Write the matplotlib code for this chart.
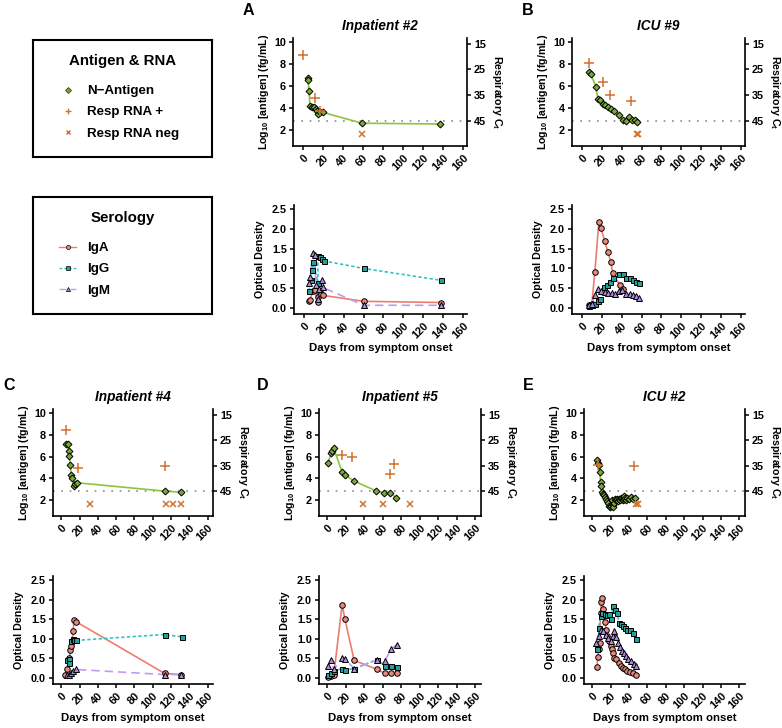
import matplotlib
matplotlib.use("Agg")
import matplotlib.pyplot as plt
from matplotlib.lines import Line2D

plt.rcParams['font.family'] = ['Liberation Sans', 'DejaVu Sans']
plt.rcParams['font.weight'] = 'bold'
plt.rcParams['axes.labelweight'] = 'bold'
plt.rcParams['mathtext.default'] = 'regular'

# ---------------- data ----------------
# A - Inpatient #2
A_ag_day = [5, 5, 6, 7, 9, 11, 13, 14, 15, 17, 20, 59, 137]
A_ag_log = [6.77, 6.5, 5.55, 4.15, 4.1, 4.05, 3.95, 3.75, 3.5, 3.65, 3.6, 2.62, 2.55]
A_pos_day = [0, 12, 17]
A_pos_ct = [19.3, 35.9, 41.0]
A_neg_day = [59]
A_iga_day = [5, 6, 9, 11, 14, 14, 16, 17, 19, 60, 138]
A_iga_od = [0.17, 0.21, 0.43, 0.45, 0.15, 0.28, 0.41, 0.36, 0.32, 0.17, 0.14]
A_igg_day = [5, 7, 8, 9, 14, 14, 16, 18, 20, 60, 138]
A_igg_od = [0.43, 0.70, 0.96, 1.17, 0.64, 1.31, 1.28, 1.25, 1.19, 1.00, 0.70]
A_igm_day = [5, 6, 9, 11, 12, 14, 15, 18, 19, 60, 138]
A_igm_od = [0.62, 0.79, 1.40, 1.34, 0.58, 0.24, 0.49, 0.70, 0.52, 0.07, 0.07]

# B - ICU #9
B_ag_day = [7, 9, 14, 16, 18, 21, 23, 26, 29, 32, 37, 41, 44, 47, 50, 53, 55]
B_ag_log = [7.28, 7.07, 5.92, 4.86, 4.71, 4.41, 4.23, 4.05, 3.87, 3.75, 3.35, 2.9, 2.84, 3.14, 2.9, 2.9, 2.75]
B_pos_day = [7, 21, 28, 49]
B_pos_ct = [22.4, 29.9, 35.0, 37.1]
B_neg_day = [55, 56]
B_iga_day = [7, 10, 13, 17, 19, 23, 26, 29, 31, 38, 41]
B_iga_od = [0.07, 0.11, 0.92, 2.17, 2.02, 1.69, 1.42, 1.17, 0.89, 0.58, 0.49]
B_igg_day = [7, 10, 13, 16, 18, 22, 25, 28, 31, 37, 41, 44, 48, 51, 54, 57]
B_igg_od = [0.05, 0.07, 0.11, 0.19, 0.24, 0.52, 0.58, 0.66, 0.75, 0.87, 0.87, 0.77, 0.75, 0.70, 0.66, 0.62]
B_igm_day = [7, 10, 13, 16, 19, 23, 26, 30, 33, 37, 40, 44, 48, 51, 54, 57]
B_igm_od = [0.07, 0.11, 0.32, 0.49, 0.43, 0.41, 0.38, 0.38, 0.36, 0.43, 0.45, 0.36, 0.35, 0.32, 0.30, 0.26]

# C - Inpatient #4
C_ag_day = [5, 7, 8, 9, 10, 11, 12, 14, 15, 17, 113, 131]
C_ag_log = [7.17, 7.17, 6.5, 6.08, 5.2, 4.29, 4.07, 3.28, 3.47, 3.6, 2.83, 2.74]
C_pos_day = [5, 18, 114]
C_pos_ct = [21.0, 35.7, 35.2]
C_neg_day = [31, 115, 122, 131]
C_iga_day = [4, 6, 9, 10, 11, 12, 13, 14, 16, 113, 131]
C_iga_od = [0.09, 0.22, 0.52, 0.71, 0.83, 0.94, 1.19, 1.49, 1.44, 0.12, 0.09]
C_igg_day = [6, 8, 9, 11, 13, 14, 16, 113, 132]
C_igg_od = [0.47, 0.49, 0.39, 0.94, 1.00, 0.98, 0.96, 1.11, 1.05]
C_igm_day = [6, 9, 11, 13, 16, 113, 131]
C_igm_od = [0.07, 0.09, 0.14, 0.18, 0.22, 0.09, 0.09]

# D - Inpatient #5
D_ag_day = [1, 4, 5, 7, 16, 19, 29, 53, 61, 68, 74]
D_ag_log = [5.38, 6.37, 6.53, 6.74, 4.56, 4.32, 3.75, 2.84, 2.69, 2.66, 2.24]
D_pos_day = [16, 27, 68, 72]
D_pos_ct = [30.7, 31.7, 38.3, 34.3]
D_neg_day = [39, 60, 89]
D_sero_day = [1, 4, 7, 16, 19, 29, 54, 62, 69, 75]
D_iga_od = [0.03, 0.05, 0.09, 1.87, 1.50, 0.45, 0.22, 0.12, 0.12, 0.12]
D_igg_od = [0.09, 0.12, 0.18, 0.24, 0.21, 0.24, 0.47, 0.32, 0.31, 0.29]
D_igm_od = [0.32, 0.47, 0.22, 0.51, 0.49, 0.24, 0.47, 0.43, 0.74, 0.85]

# E - ICU #2
E_ag_day = [5, 6, 7, 8, 9, 10, 11, 12, 13, 14, 15, 16, 17, 18, 19, 20, 21, 22, 23,
            24, 25, 26, 27, 28, 29, 30, 31, 32, 33, 34, 35, 36, 37, 38, 40, 42, 44, 46]
E_ag_log = [5.65, 5.45, 5.2, 4.6, 3.7, 3.3, 2.75, 2.6, 2.45, 2.3, 2.1, 1.9, 1.7, 1.5, 1.35,
            1.45, 2.05, 1.6, 1.4, 1.75, 2.1, 2.0, 2.15, 1.95, 2.1, 2.0, 2.2, 2.1, 2.0, 2.15,
            2.35, 2.2, 2.05, 2.2, 2.15, 2.25, 2.1, 2.2]
E_pos_day = [6, 45]
E_pos_ct = [34.7, 35.0]
E_neg_day = [48, 50]
E_iga_day = [5, 6, 7, 8, 9, 10, 11, 12, 13, 14, 15, 16, 18, 20, 21, 23, 24, 26, 29, 31,
             33, 36, 38, 41, 44, 47]
E_iga_od = [0.29, 0.54, 0.74, 0.90, 1.67, 1.93, 2.05, 1.76, 1.64, 1.44, 1.23, 1.06, 0.94,
            0.83, 0.74, 0.64, 0.52, 0.48, 0.39, 0.30, 0.26, 0.22, 0.18, 0.15, 0.14, 0.09]
E_igg_day = [5, 7, 9, 11, 14, 16, 18, 20, 23, 25, 27, 29, 31, 33, 36, 38, 41, 44, 47]
E_igg_od = [0.74, 1.28, 1.57, 1.66, 1.62, 1.60, 1.62, 1.50, 1.83, 1.74, 1.66, 1.40, 1.38,
            1.33, 1.27, 1.23, 1.22, 1.15, 1.00]
E_igm_day = [4, 7, 10, 12, 15, 17, 20, 22, 24, 26, 28, 30, 32, 34, 37, 39, 42, 45, 47]
E_igm_od = [0.90, 1.06, 1.23, 1.19, 1.10, 1.02, 0.94, 1.08, 1.19, 1.05, 0.89, 0.80, 0.70,
            0.64, 0.56, 0.49, 0.43, 0.37, 0.30]

DAY_TICKS = [0, 20, 40, 60, 80, 100, 120, 140, 160]
AG_TICKS = [2, 4, 6, 8, 10]
CT_TICKS = [15, 25, 35, 45]
OD_TICKS = [0.0, 0.5, 1.0, 1.5, 2.0, 2.5]

# ---------------- styling ----------------
GREEN_FILL = '#7aa83a'
GREEN_LINE = '#8cc43c'
ORANGE = '#d2722e'
IGA_LINE, IGA_FILL = '#f07b70', '#e98a80'
IGG_LINE, IGG_FILL = '#35c4c4', '#25a09a'
IGM_LINE, IGM_FILL = '#c19bf0', '#ad8ae0'

TICK_FS = 7.8
YLAB_FS = 7.7
XLAB_FS = 8.2
TITLE_FS = 9.8

LOD = 2.8          # antigen LOD, also Ct 45
LOG_PER_CT = 0.235
NEG_Y = 1.65       # RNA-negative samples drawn below LOD
AG_YLIM = (0.55, 10.36)
OD_YLIM = (-0.15, 2.6)


def log_to_ct(y):
    return 45 - (y - LOD) / LOG_PER_CT


W, H = 782, 728
fig = plt.figure(figsize=(W / 100, H / 100), dpi=100)


def add_ax(l, t, r, b):
    return fig.add_axes([l / W, 1 - b / H, (r - l) / W, (b - t) / H])


def base_style(ax, xlim, ylim, yticks, ylabels):
    ax.set_xlim(xlim)
    ax.set_ylim(ylim)
    ax.set_xticks(DAY_TICKS)
    ax.set_xticklabels([str(t) for t in DAY_TICKS], rotation=45, ha='right',
                       va='top', rotation_mode='anchor')
    ax.set_yticks(yticks)
    ax.set_yticklabels(ylabels)
    ax.tick_params(length=3, width=1.1, labelsize=TICK_FS, pad=2)
    ax.spines['top'].set_visible(False)
    ax.spines['right'].set_visible(False)
    for s in ax.spines.values():
        s.set_linewidth(1.2)


def antigen_panel(box, xlim, title, ag_day, ag_log, pos_day, pos_ct, neg_day):
    l, t, r, b = box
    ax = add_ax(*box)
    ax.axhline(LOD, color='#8a8a8a', lw=1.2, ls=(0, (1, 4)), zorder=1)
    ax.plot(ag_day, ag_log, color=GREEN_LINE, lw=1.2, zorder=2)
    ax.plot(ag_day, ag_log, ls='none', marker='D', ms=3.5, mfc=GREEN_FILL,
            mec='black', mew=0.7, zorder=3)
    ax.plot(neg_day, [NEG_Y] * len(neg_day), ls='none', marker='x', ms=4.5,
            mec=ORANGE, mew=1.1, zorder=3)
    base_style(ax, xlim, AG_YLIM, AG_TICKS, [str(v) for v in AG_TICKS])
    ax.set_ylabel('Log$_{10}$ [antigen] (fg/mL)', fontsize=YLAB_FS)
    ax.yaxis.set_label_coords(-22 / (r - l), 0.5)
    ax.set_title(title, fontsize=TITLE_FS, fontstyle='italic', fontweight='bold', pad=6)

    ax2 = ax.twinx()
    ax2.set_ylim(log_to_ct(AG_YLIM[0]), log_to_ct(AG_YLIM[1]))
    ax2.plot(pos_day, pos_ct, ls='none', marker='+', ms=7, mec=ORANGE, mew=1.1)
    ax2.set_yticks(CT_TICKS)
    ax2.tick_params(length=3, width=1.1, labelsize=TICK_FS, pad=2)
    for s in ['top', 'left', 'bottom']:
        ax2.spines[s].set_visible(False)
    ax2.spines['right'].set_linewidth(1.2)
    ax2.set_ylabel('Respiratory C$_t$', fontsize=YLAB_FS, rotation=270, va='bottom')
    ax2.yaxis.set_label_coords(1 + 23 / (r - l), 0.5)
    return ax


SERO = [
    ('IgA', dict(color=IGA_LINE, ls='-'), dict(marker='o', mfc=IGA_FILL), 4),
    ('IgG', dict(color=IGG_LINE, ls=(0, (2, 1.4))), dict(marker='s', mfc=IGG_FILL), 3.6),
    ('IgM', dict(color=IGM_LINE, ls=(0, (5, 3))), dict(marker='^', mfc=IGM_FILL), 4.4),
]


def sero_panel(box, xlim, series):
    l, t, r, b = box
    ax = add_ax(*box)
    for (name, lkw, mkw, ms), (d, v) in zip(SERO, series):
        ax.plot(d, v, lw=1.2, zorder=2, **lkw)
    for (name, lkw, mkw, ms), (d, v) in zip(SERO, series):
        ax.plot(d, v, ls='none', ms=ms, mec='black', mew=0.7, zorder=3, **mkw)
    base_style(ax, xlim, OD_YLIM, OD_TICKS, ['%.1f' % v for v in OD_TICKS])
    ax.set_ylabel('Optical Density', fontsize=YLAB_FS)
    ax.yaxis.set_label_coords(-29 / (r - l), 0.5)
    ax.set_xlabel('Days from symptom onset', fontsize=XLAB_FS)
    ax.xaxis.set_label_coords(0.5, -29 / (b - t))
    return ax


TOP_X = (-10, 164)
BOT_X = (-9, 166)

antigen_panel((293, 38, 467, 146), TOP_X, 'Inpatient #2', A_ag_day, A_ag_log, A_pos_day, A_pos_ct, A_neg_day)
sero_panel((294, 205, 467, 314), TOP_X,
           [(A_iga_day, A_iga_od), (A_igg_day, A_igg_od), (A_igm_day, A_igm_od)])

antigen_panel((572, 38, 745, 146), TOP_X, 'ICU #9', B_ag_day, B_ag_log, B_pos_day, B_pos_ct, B_neg_day)
sero_panel((572, 205, 745, 314), TOP_X,
           [(B_iga_day, B_iga_od), (B_igg_day, B_igg_od), (B_igm_day, B_igm_od)])

antigen_panel((53, 409, 213, 516), BOT_X, 'Inpatient #4', C_ag_day, C_ag_log, C_pos_day, C_pos_ct, C_neg_day)
sero_panel((53, 576, 213, 684), BOT_X,
           [(C_iga_day, C_iga_od), (C_igg_day, C_igg_od), (C_igm_day, C_igm_od)])

antigen_panel((319, 409, 481, 516), BOT_X, 'Inpatient #5', D_ag_day, D_ag_log, D_pos_day, D_pos_ct, D_neg_day)
sero_panel((319, 576, 481, 684), BOT_X,
           [(D_sero_day, D_iga_od), (D_sero_day, D_igg_od), (D_sero_day, D_igm_od)])

antigen_panel((584, 409, 745, 516), BOT_X, 'ICU #2', E_ag_day, E_ag_log, E_pos_day, E_pos_ct, E_neg_day)
sero_panel((584, 576, 745, 684), BOT_X,
           [(E_iga_day, E_iga_od), (E_igg_day, E_igg_od), (E_igm_day, E_igm_od)])

# panel letters
for letter, x, y in [('A', 243, 15), ('B', 522, 15), ('C', 3, 390), ('D', 257, 390), ('E', 523, 390)]:
    fig.text(x / W, 1 - y / H, letter, fontsize=11.5, fontweight='bold', va='baseline')


# legend boxes
def legend_box(box, title, handles, labels):
    l, t, r, b = box
    ax = add_ax(*box)
    ax.set_xticks([])
    ax.set_yticks([])
    for s in ax.spines.values():
        s.set_linewidth(1.5)
    ax.text(0.5, 1 - 21 / (b - t), title, transform=ax.transAxes, ha='center',
            va='center', fontsize=10.8, fontweight='bold')
    ax.legend(handles, labels, loc='upper left', frameon=False, fontsize=9.6,
              bbox_to_anchor=(26 / (r - l), 1 - 45 / (b - t)), borderpad=0,
              borderaxespad=0, handlelength=1.3, handletextpad=0.8, labelspacing=0.66)


ag_handles = [
    Line2D([], [], ls='none', marker='D', ms=3, mfc=GREEN_FILL, mec='#2f4a10', mew=0.6),
    Line2D([], [], ls='none', marker='+', ms=5, mec=ORANGE, mew=1),
    Line2D([], [], ls='none', marker='x', ms=3.5, mec=ORANGE, mew=1),
]
legend_box((33, 40, 212, 157), 'Antigen & RNA', ag_handles,
           ['N\u2212Antigen', 'Resp RNA +', 'Resp RNA neg'])

sero_handles = [Line2D([], [], lw=1, mec='black', mew=0.5, ms=3, **lkw, **mkw)
                for name, lkw, mkw, ms in SERO]
legend_box((33, 197, 212, 314), 'Serology', sero_handles, [s[0] for s in SERO])

fig.savefig('out.png', dpi=100)
